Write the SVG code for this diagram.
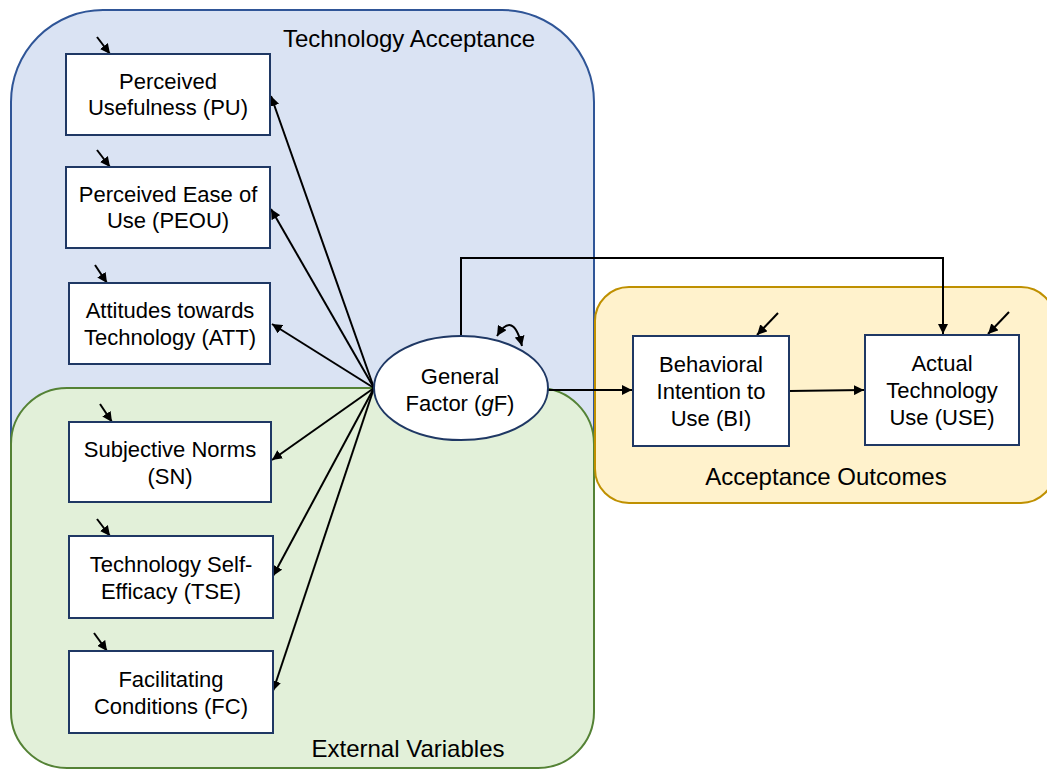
<svg xmlns="http://www.w3.org/2000/svg" width="1047" height="770" viewBox="0 0 1047 770">
<defs>
<marker id="ah" viewBox="0 0 10 10" refX="10" refY="5" markerWidth="5" markerHeight="5" orient="auto-start-reverse" markerUnits="strokeWidth">
<path d="M0,0 L10,5 L0,10 z" fill="#000"/>
</marker>
</defs>
<style>
.grp text{font-family:"Liberation Sans",Arial,sans-serif;font-size:24px;fill:#000;text-anchor:middle}
.node rect{fill:#fff;stroke:#1f3864;stroke-width:2}
.node ellipse{fill:#fff;stroke:#1f3864;stroke-width:2}
.node text{font-family:"Liberation Sans",Arial,sans-serif;font-size:22px;fill:#000;text-anchor:middle}
.c{stroke:#000;stroke-width:2;fill:none;marker-end:url(#ah)}
</style>
<g id="group-tech" class="grp">
<rect x="11" y="10" width="583" height="700" rx="92" fill="#dae3f3" stroke="#2f5597" stroke-width="2"/>
<text x="409" y="47">Technology Acceptance</text>
</g>
<g id="group-ext" class="grp">
<rect x="11" y="388" width="583" height="380" rx="56" fill="#e2f0d9" stroke="#548235" stroke-width="2"/>
<text x="408" y="757">External Variables</text>
</g>
<g id="group-out" class="grp">
<rect x="595" y="287" width="460" height="216" rx="34" fill="#fff2cc" stroke="#bf9000" stroke-width="2"/>
<text x="826" y="485">Acceptance Outcomes</text>
</g>
<g id="connectors">
<line class="c" x1="374" y1="388" x2="271" y2="96"/>
<line class="c" x1="374" y1="388" x2="271" y2="209"/>
<line class="c" x1="374" y1="388" x2="272" y2="324"/>
<line class="c" x1="374" y1="388" x2="272" y2="460"/>
<line class="c" x1="374" y1="388" x2="273" y2="576"/>
<line class="c" x1="374" y1="388" x2="273" y2="691"/>
<polyline class="c" points="461,335 461,258 943,258 943,334"/>
<line class="c" x1="548" y1="390" x2="632" y2="390"/>
<line class="c" x1="789" y1="391" x2="864" y2="390"/>
<path d="M 497 336 Q 513 310 522 346" stroke="#000" stroke-width="2" fill="none" marker-start="url(#ah)" marker-end="url(#ah)"/>
<line class="c" x1="97" y1="37" x2="110" y2="54"/>
<line class="c" x1="97" y1="150" x2="110" y2="167"/>
<line class="c" x1="95" y1="265" x2="107" y2="283"/>
<line class="c" x1="100" y1="404" x2="112" y2="422"/>
<line class="c" x1="97" y1="519" x2="110" y2="536"/>
<line class="c" x1="94" y1="633" x2="107" y2="651"/>
<line class="c" x1="778" y1="313" x2="757" y2="335"/>
<line class="c" x1="1009" y1="312" x2="988" y2="334"/>
</g>
<g id="node-pu" class="node">
<rect x="66" y="54" width="204" height="81"/>
<text x="168" y="89">Perceived</text>
<text x="168" y="115">Usefulness (PU)</text>
</g>
<g id="node-peou" class="node">
<rect x="66" y="167" width="204" height="81"/>
<text x="168" y="202">Perceived Ease of</text>
<text x="168" y="228">Use (PEOU)</text>
</g>
<g id="node-att" class="node">
<rect x="69" y="283" width="201" height="81"/>
<text x="170" y="318">Attitudes towards</text>
<text x="170" y="345">Technology (ATT)</text>
</g>
<g id="node-sn" class="node">
<rect x="69" y="422" width="202" height="80"/>
<text x="170" y="457">Subjective Norms</text>
<text x="170" y="484">(SN)</text>
</g>
<g id="node-tse" class="node">
<rect x="69" y="536" width="204" height="82"/>
<text x="171" y="572">Technology Self-</text>
<text x="171" y="599">Efficacy (TSE)</text>
</g>
<g id="node-fc" class="node">
<rect x="69" y="651" width="204" height="82"/>
<text x="171" y="687">Facilitating</text>
<text x="171" y="714">Conditions (FC)</text>
</g>
<g id="node-gf" class="node">
<ellipse cx="461" cy="388" rx="87" ry="52"/>
<text x="460" y="384">General</text>
<text x="460" y="411">Factor (<tspan font-style="italic">g</tspan>F)</text>
</g>
<g id="node-bi" class="node">
<rect x="633" y="336" width="156" height="110"/>
<text x="711" y="372">Behavioral</text>
<text x="711" y="399">Intention to</text>
<text x="711" y="426">Use (BI)</text>
</g>
<g id="node-use" class="node">
<rect x="865" y="335" width="154" height="110"/>
<text x="942" y="371">Actual</text>
<text x="942" y="398">Technology</text>
<text x="942" y="425">Use (USE)</text>
</g>
</svg>
